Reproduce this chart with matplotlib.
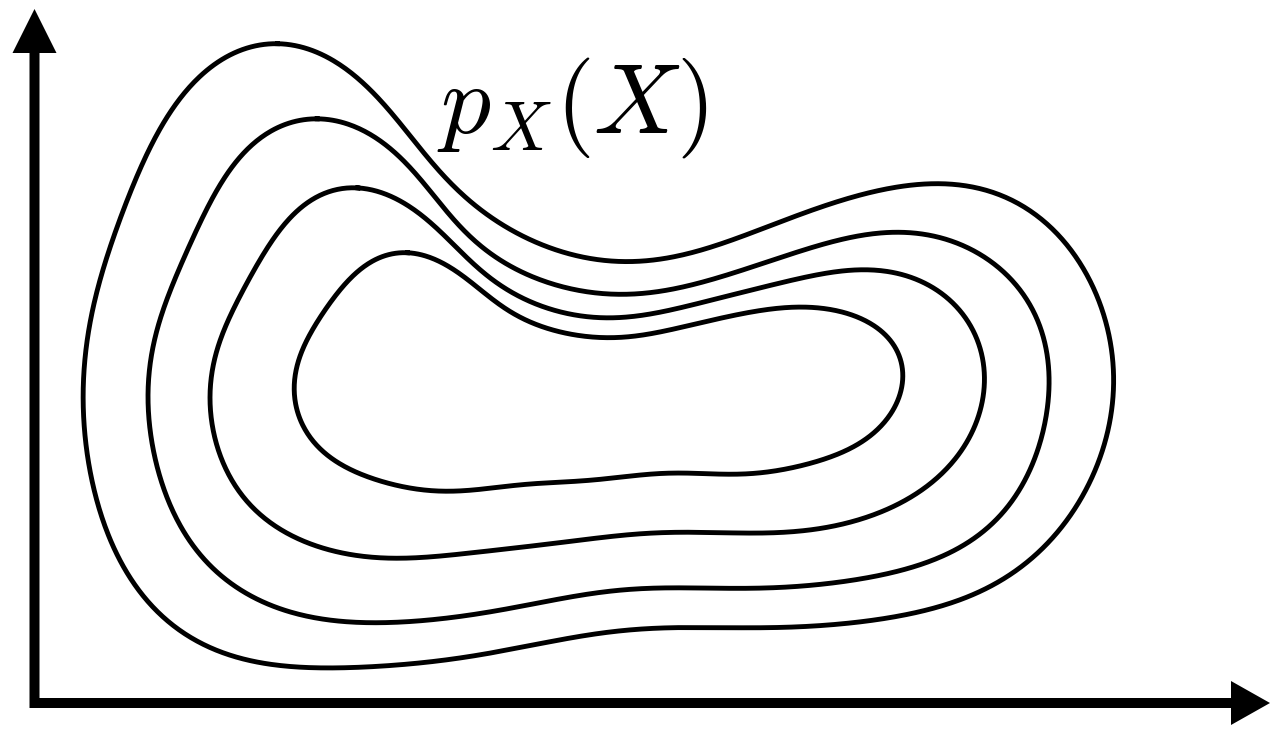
import numpy as np
import matplotlib
matplotlib.use("Agg")
import matplotlib.pyplot as plt
from matplotlib.patches import FancyArrow

# Level curves of the density, given as knots (x, y) in canvas pixels, y downward.
level_outer_x = [278, 327, 367, 408, 449, 490, 531, 580, 630, 712, 793, 875, 940, 997, 1038,
                 1079, 1103, 1115, 1108, 1079, 1038, 977, 916, 834, 752, 640, 571, 490, 408,
                 347, 286, 224, 163, 122, 98, 86, 84, 88, 102, 122, 155, 184, 229]
level_outer_y = [40, 57, 90, 133, 180, 217, 240, 257, 261, 247, 217, 192, 183, 193, 217,
                 263, 317, 366, 433, 499, 553, 593, 613, 624, 628, 629, 638, 653, 664,
                 668, 666, 653, 616, 566, 506, 433, 366, 333, 273, 213, 140, 93, 57]

level_2_x = [318, 367, 408, 449, 490, 531, 580, 630, 712, 793, 854, 895, 957, 997, 1026, 1044,
             1048, 1042, 1018, 977, 916, 834, 752, 640, 531, 449, 388, 327, 265, 204, 167,
             151, 151, 155, 171, 196, 229, 265]
level_2_y = [118, 133, 167, 213, 253, 277, 290, 294, 280, 253, 237, 232, 243, 267, 300, 333,
             366, 433, 493, 536, 566, 583, 588, 589, 604, 618, 623, 619, 603, 559, 499,
             433, 366, 333, 287, 233, 173, 133]

level_3_x = [359, 408, 449, 490, 531, 580, 630, 712, 793, 850, 895, 936, 965, 981, 983, 977,
             948, 895, 834, 752, 640, 571, 490, 408, 327, 265, 229, 212, 214, 220, 245, 278, 310]
level_3_y = [187, 207, 240, 277, 303, 315, 317, 300, 280, 270, 273, 290, 317, 350, 366, 423,
             466, 506, 526, 533, 534, 541, 551, 558, 549, 519, 476, 416, 366, 333, 290, 233, 200]

level_inner_x = [408, 449, 490, 531, 580, 630, 712, 752, 801, 842, 875, 895, 903, 901, 883,
                 834, 773, 712, 640, 531, 449, 408, 359, 314, 296, 296, 314, 339, 367]
level_inner_y = [253, 267, 297, 323, 335, 337, 320, 312, 307, 312, 327, 347, 366, 389, 423,
                 456, 471, 474, 475, 484, 491, 488, 473, 443, 399, 366, 327, 293, 263]

density_label = r"$p_X(X)$"


def smooth_closed_curve(xs, ys, harmonics=10, samples=1200):
    """Least-squares periodic (Fourier) curve through the knots, chord-length parametrised."""
    pts = np.column_stack([xs, ys]).astype(float)
    seg = np.linalg.norm(np.roll(pts, -1, axis=0) - pts, axis=1)
    s = np.concatenate([[0.0], np.cumsum(seg)[:-1]]) / seg.sum() * 2 * np.pi

    def basis(t):
        cols = [np.ones_like(t)]
        for k in range(1, harmonics + 1):
            cols += [np.cos(k * t), np.sin(k * t)]
        return np.column_stack(cols)

    coef, *_ = np.linalg.lstsq(basis(s), pts, rcond=None)
    t = np.linspace(0, 2 * np.pi, samples)
    return basis(t) @ coef


W, H = 1271, 732
fig = plt.figure(figsize=(W / 100, H / 100), dpi=100)
ax = fig.add_axes([0, 0, 1, 1])
ax.set_xlim(0, W)
ax.set_ylim(H, 0)
ax.axis("off")

for xs, ys in [(level_outer_x, level_outer_y), (level_2_x, level_2_y),
               (level_3_x, level_3_y), (level_inner_x, level_inner_y)]:
    c = smooth_closed_curve(xs, ys)
    ax.plot(c[:, 0], c[:, 1], color="black", lw=3.5, solid_joinstyle="round")

# Coordinate axes with arrowheads
ax.add_patch(FancyArrow(34.5, 708, 0, -699, width=10, head_width=44, head_length=44,
                        length_includes_head=True, color="black", lw=0))
ax.add_patch(FancyArrow(30, 703, 1240, 0, width=10, head_width=44, head_length=39,
                        length_includes_head=True, color="black", lw=0))

plt.rcParams["mathtext.fontset"] = "cm"
ax.text(437, 133, density_label, fontsize=72, ha="left", va="baseline", color="black")

fig.savefig("out.png", dpi=100, facecolor="white")
